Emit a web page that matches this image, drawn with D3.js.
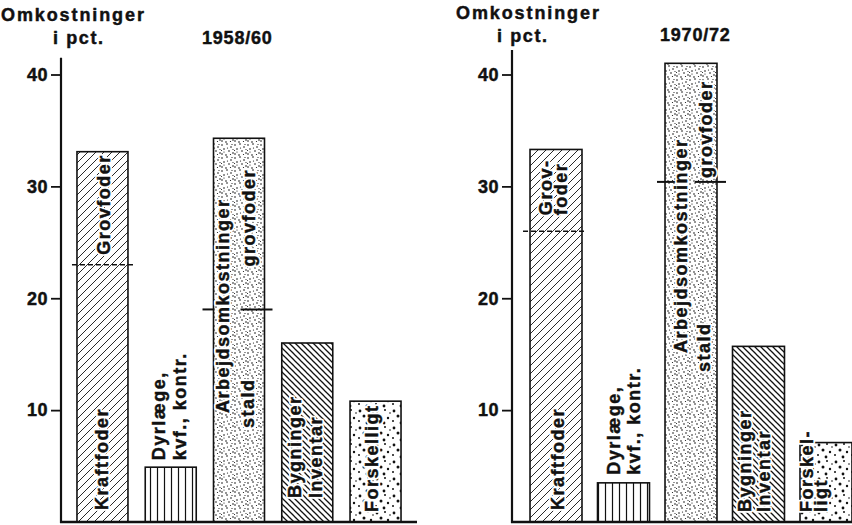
<!DOCTYPE html>
<html>
<head>
<meta charset="utf-8">
<script src="https://cdn.jsdelivr.net/npm/d3@7"></script>
<style>
  body { margin: 0; background: #fff; }
  svg { display: block; }
  text { font-family: "Liberation Sans", Arial, Helvetica, sans-serif; font-weight: 700; fill: #111; }
</style>
</head>
<body>
<svg id="chart" width="852" height="525"></svg>
<script>
// Cost shares (per cent) for the two periods
const categories = ["Kraftfoder", "Dyrlæge, kvf., kontr.", "Arbejdsomkostninger", "Bygninger, inventar", "Forskelligt"];
const periods = ["1958/60", "1970/72"];
const values1958 = [33.1, 4.9, 34.3, 16.0, 10.8];
const split1958  = [23.0, null, 19.0, null, null];   // grovfoder part above the line
const values1970 = [33.3, 3.5, 41.0, 15.7, 7.1];
const split1970  = [26.0, null, 30.4, null, null];
const tickValues = [10, 20, 30, 40];
const axisTitle = ["Omkostninger", "i pct."];

// Text written inside / above each bar
const labels1958 = [["Kraftfoder", "Grovfoder"], ["Dyrlæge,", "kvf., kontr."], ["Arbejdsomkostninger", "stald", "grovfoder"], ["Bygninger", "Inventar"], ["Forskelligt"]];
const labels1970 = [["Kraftfoder", "Grov-", "foder"], ["Dyrlæge,", "kvf., kontr."], ["Arbejdsomkostninger", "stald", "grovfoder"], ["Bygninger", "Inventar"], ["Forskel-", "ligt"]];

// Fill pattern for each category
const fills = ["hatchFwd", "vlines", "stipple", "hatchBack", "coarseDots"];

// Placement of the rotated labels: baseline offset from bar left, anchor and vertical offset
const place1958 = [
  [{dx: 31, at: "base", off: -12}, {dx: 33, at: "split", off: -10}],
  [{dx: 20, at: "top", off: -7}, {dx: 41, at: "top", off: -7}],
  [{dx: 15, at: "base", off: -109}, {dx: 40, at: "base", off: -94}, {dx: 41, at: "split", off: -43}],
  [{dx: 19, at: "base", off: -24}, {dx: 40, at: "base", off: -24}],
  [{dx: 28, at: "base", off: -10}]
];
const place1970 = [
  [{dx: 34, at: "base", off: -12}, {dx: 22, at: "split", off: -16}, {dx: 37, at: "split", off: -16}],
  [{dx: 22, at: "top", off: -8}, {dx: 42, at: "top", off: -8}],
  [{dx: 22, at: "base", off: -169}, {dx: 45, at: "base", off: -150}, {dx: 47, at: "split", off: -4}],
  [{dx: 18, at: "base", off: -10}, {dx: 37, at: "base", off: -10}],
  [{dx: 13, at: "base", off: -10}, {dx: 27, at: "base", off: -10}]
];
// Divider line styles: dashed across Kraftfoder, solid and broken across Arbejdsomkostninger
const divider1958 = [{dash: true, ext: [-5, 8]}, null, {dash: false, ext: [-11, 8], gap: [1, 27]}, null, null];
const divider1970 = [{dash: true, ext: [-7, 3]}, null, {dash: false, ext: [-8, 9], gap: [12, 30]}, null, null];

const svg = d3.select("#chart");
const defs = svg.append("defs");
const ink = "#111";

// diagonal hatching drawn directly in the tile so the lines stay crisp
function diagPattern(id, s, width, forward) {
  const p = defs.append("pattern").attr("id", id)
    .attr("patternUnits", "userSpaceOnUse").attr("width", s).attr("height", s);
  p.append("rect").attr("width", s).attr("height", s).attr("fill", "#fff");
  const segs = forward
    ? [[0, s, s, 0], [-2, 2, 2, -2], [s - 2, s + 2, s + 2, s - 2]]
    : [[0, 0, s, s], [-2, s - 2, 2, s + 2], [s - 2, -2, s + 2, 2]];
  p.selectAll("line").data(segs).join("line")
    .attr("x1", d => d[0]).attr("y1", d => d[1]).attr("x2", d => d[2]).attr("y2", d => d[3])
    .attr("stroke", ink).attr("stroke-width", width);
}
diagPattern("hatchFwd", 8, 0.9, true);
diagPattern("hatchBack", 6, 1.25, false);

(function vlinePattern() {
  const p = defs.append("pattern").attr("id", "vlines")
    .attr("patternUnits", "userSpaceOnUse").attr("width", 7).attr("height", 10);
  p.append("rect").attr("width", 7).attr("height", 10).attr("fill", "#fff");
  p.append("line").attr("x1", 3.5).attr("x2", 3.5).attr("y1", 0).attr("y2", 10)
    .attr("stroke", ink).attr("stroke-width", 1.2);
})();

function dotPattern(id, size, dots, r) {
  const p = defs.append("pattern").attr("id", id)
    .attr("patternUnits", "userSpaceOnUse")
    .attr("width", size).attr("height", size);
  p.append("rect").attr("width", size).attr("height", size).attr("fill", "#fff");
  p.selectAll("circle").data(dots).join("circle")
    .attr("cx", d => d[0]).attr("cy", d => d[1]).attr("r", d => d[2] || r).attr("fill", ink);
}
dotPattern("stipple", 13, [[1, 2], [6, 1], [10, 4], [3, 6], [8, 8], [12, 10], [1, 11], [5, 12], [11, 1.5, 0.6], [6.5, 5, 0.6], [3, 9, 0.6], [9.5, 11.5, 0.6], [12, 6.5, 0.55], [0.5, 7.5, 0.55]], 0.8);
dotPattern("coarseDots", 17, [[3, 3, 1.4], [11, 2, 1.0], [7, 8, 1.5], [14, 10, 1.2], [2, 13, 1.0], [10, 15, 1.4], [16, 5, 0.8]], 1);

const y = d3.scaleLinear().domain([0, 40]).range([522, 74.5]);

const panels = [
  {period: periods[0], values: values1958, splits: split1958, labels: labels1958, place: place1958, divider: divider1958,
   axisX: 61, rangeEnd: 417, padIn: 0.253, padOut: 0.234, axisTop: 41.5,
   titlePos: [[-60, 21], [-8, 44], [141, 44]]},
  {period: periods[1], values: values1970, splits: split1970, labels: labels1970, place: place1970, divider: divider1970,
   axisX: 512, rangeEnd: 870, padIn: 0.23, padOut: 0.267, axisTop: 42.2,
   titlePos: [[-56, 19], [-15, 42], [148, 41]]}
];

// heavier print: a thin stroke in the ink colour on top of the glyphs
function inkText(sel) {
  return sel.attr("stroke", ink).attr("stroke-width", 0.45).attr("stroke-linejoin", "round");
}

function drawPanel(cfg) {
  const g = svg.append("g");
  const x = d3.scaleBand().domain(categories).range([cfg.axisX, cfg.rangeEnd])
    .paddingInner(cfg.padIn).paddingOuter(cfg.padOut);

  // titles
  inkText(g.append("text").attr("x", cfg.axisX + cfg.titlePos[0][0]).attr("y", cfg.titlePos[0][1])
    .attr("font-size", 18).attr("letter-spacing", 1.9).text(axisTitle[0]));
  inkText(g.append("text").attr("x", cfg.axisX + cfg.titlePos[1][0]).attr("y", cfg.titlePos[1][1])
    .attr("font-size", 18).attr("letter-spacing", 1.6).text(axisTitle[1]));
  inkText(g.append("text").attr("x", cfg.axisX + cfg.titlePos[2][0]).attr("y", cfg.titlePos[2][1])
    .attr("font-size", 18).attr("letter-spacing", 0.8).text(cfg.period));

  // bars
  const bars = categories.map((c, i) => ({c, i, v: cfg.values[i], s: cfg.splits[i]}));
  g.selectAll("rect.bar").data(bars).join("rect").attr("class", "bar")
    .attr("x", d => x(d.c)).attr("width", x.bandwidth())
    .attr("y", d => y(d.v)).attr("height", d => y(0) - y(d.v))
    .attr("fill", d => `url(#${fills[d.i]})`)
    .attr("stroke", ink).attr("stroke-width", 1.6);

  // divider lines between grovfoder and the rest
  bars.filter(d => d.s != null).forEach(d => {
    const spec = cfg.divider[d.i];
    const x0 = x(d.c), x1 = x0 + x.bandwidth(), ys = y(d.s);
    const segs = spec.gap ? [[x0 + spec.ext[0], x0 + spec.gap[0]], [x0 + spec.gap[1], x1 + spec.ext[1]]]
                          : [[x0 + spec.ext[0], x1 + spec.ext[1]]];
    segs.forEach(sg => {
      g.append("line").attr("x1", sg[0]).attr("x2", sg[1]).attr("y1", ys).attr("y2", ys)
        .attr("stroke", ink).attr("stroke-width", spec.dash ? 1.5 : 2)
        .attr("stroke-dasharray", spec.dash ? "5 3" : null);
    });
  });

  // rotated labels: white halo first, then the ink glyphs
  bars.forEach(d => {
    cfg.labels[d.i].forEach((t, k) => {
      const p = cfg.place[d.i][k];
      const anchorY = p.at === "base" ? y(0) : p.at === "top" ? y(d.v) : y(d.s);
      const tx = x(d.c) + p.dx, ty = anchorY + p.off;
      g.append("text")
        .attr("transform", `translate(${tx},${ty}) rotate(-90)`)
        .attr("font-size", 18).attr("letter-spacing", 1.5)
        .attr("fill", "#fff").attr("stroke", "#fff").attr("stroke-width", 4)
        .attr("stroke-linejoin", "round")
        .text(t);
      inkText(g.append("text")
        .attr("transform", `translate(${tx},${ty}) rotate(-90)`)
        .attr("font-size", 18).attr("letter-spacing", 1.5)
        .text(t));
    });
  });

  // axes
  const axis = d3.axisLeft(y).tickValues(tickValues).tickSize(10).tickPadding(3).tickSizeOuter(0);
  const ag = g.append("g").attr("transform", `translate(${cfg.axisX},0)`).call(axis);
  ag.select(".domain").remove();
  ag.selectAll(".tick line").attr("stroke", ink).attr("stroke-width", 1.8);
  inkText(ag.selectAll(".tick text").attr("font-size", 18).attr("letter-spacing", 0.5)
    .attr("font-family", "Liberation Sans, Arial, sans-serif").attr("font-weight", "bold").attr("fill", ink));
  g.append("line").attr("x1", cfg.axisX).attr("x2", cfg.axisX)
    .attr("y1", y(0) + 1).attr("y2", y(cfg.axisTop))
    .attr("stroke", ink).attr("stroke-width", 2.2);
  g.append("line").attr("x1", cfg.axisX - 1).attr("x2", cfg.rangeEnd)
    .attr("y1", y(0)).attr("y2", y(0))
    .attr("stroke", ink).attr("stroke-width", 2.4);
}

panels.forEach(drawPanel);
</script>
</body>
</html>
